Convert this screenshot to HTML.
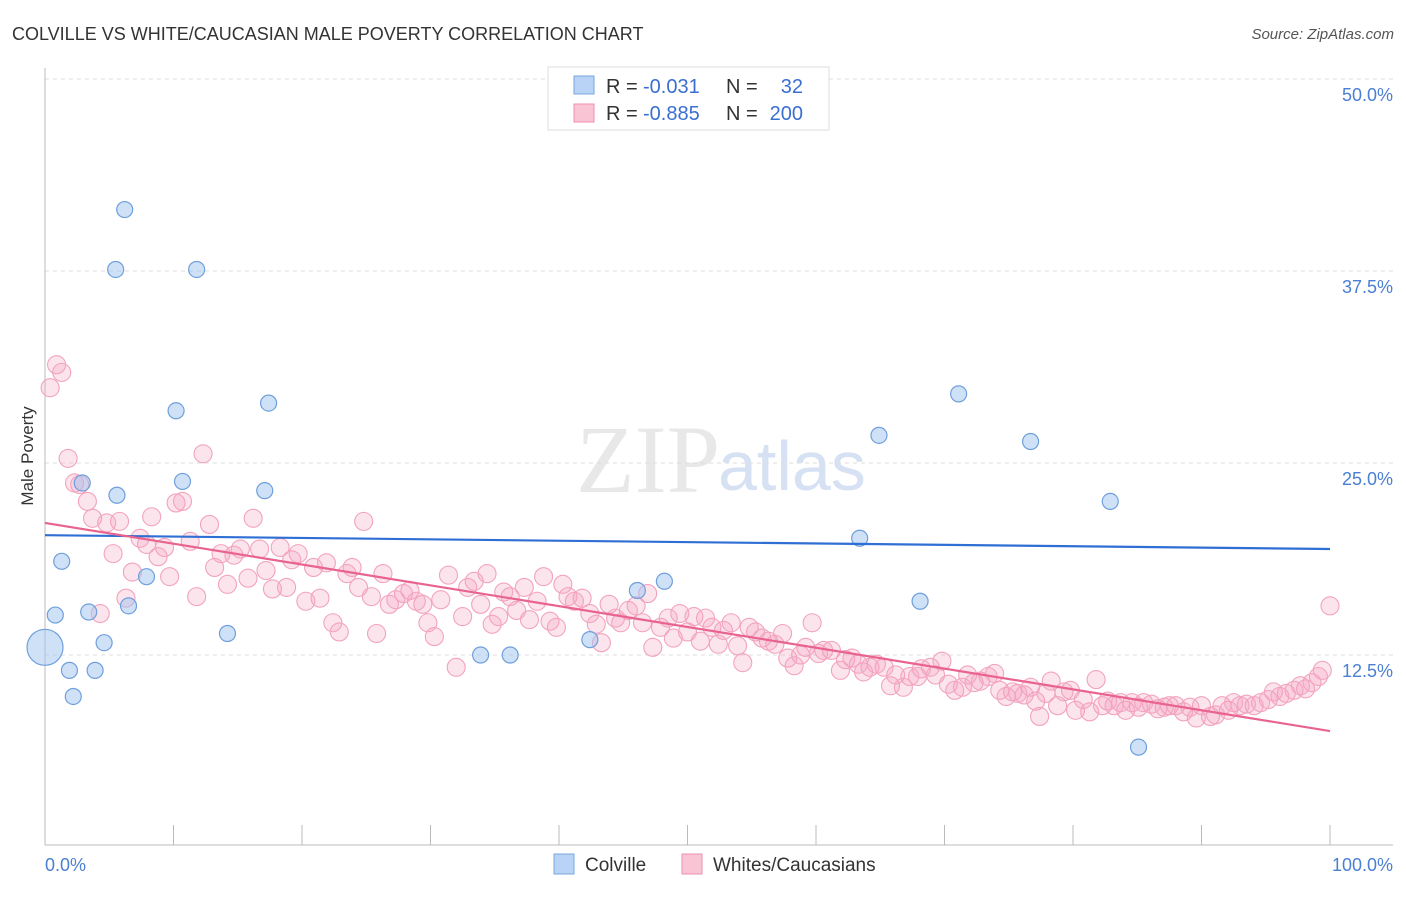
<!DOCTYPE html>
<html><head><meta charset="utf-8"><style>
body{margin:0;background:#fff;font-family:"Liberation Sans",sans-serif}
</style></head><body>
<svg width="1406" height="892" xmlns="http://www.w3.org/2000/svg" font-family="Liberation Sans, sans-serif">
<text x="12" y="40" font-size="18" fill="#333">COLVILLE VS WHITE/CAUCASIAN MALE POVERTY CORRELATION CHART</text>
<text x="1394" y="39" font-size="15" fill="#555" font-style="italic" text-anchor="end">Source: ZipAtlas.com</text>
<text x="33" y="456" font-size="17" fill="#333" text-anchor="middle" transform="rotate(-90 33 456)">Male Poverty</text>
<text x="720" y="492" font-size="96" fill="#e8e8e8" text-anchor="end" font-family="Liberation Serif, serif">ZIP</text>
<text x="718" y="490" font-size="70" fill="#d6e2f3">atlas</text>
<g id="grid"></g><g id="axes"></g><g id="pts"></g><g id="lines"></g>
<g>
<rect x="548" y="67" width="281" height="63" fill="#fff" stroke="#ddd"/>
<rect x="574" y="76" width="20" height="18" fill="#b8d3f5" stroke="#7aa7e0"/>
<rect x="574" y="104" width="20" height="18" fill="#f9c4d4" stroke="#ee90ad"/>
<text y="93" font-size="20" fill="#333"><tspan x="606">R =</tspan><tspan x="643" fill="#3a6fd0">-0.031</tspan><tspan x="726">N =</tspan><tspan x="803" fill="#3a6fd0" text-anchor="end">32</tspan></text>
<text y="120" font-size="20" fill="#333"><tspan x="606">R =</tspan><tspan x="643" fill="#3a6fd0">-0.885</tspan><tspan x="726">N =</tspan><tspan x="803" fill="#3a6fd0" text-anchor="end">200</tspan></text>
</g>
<g>
<rect x="554" y="854" width="20" height="20" fill="#b8d3f5" stroke="#7aa7e0"/>
<text x="585" y="871" font-size="19" fill="#333">Colville</text>
<rect x="682" y="854" width="20" height="20" fill="#f9c4d4" stroke="#ee90ad"/>
<text x="713" y="871" font-size="19" fill="#333">Whites/Caucasians</text>
</g>
</svg>
<script>
const yTicks=[12.5,25,37.5,50];
const yTickLabels=["12.5%","25.0%","37.5%","50.0%"];
const xTickLabels=["0.0%","100.0%"];
const blueX=[0,0.8,1.3,1.9,2.2,2.9,3.4,3.9,4.6,5.5,5.6,6.2,6.5,7.9,10.2,10.7,11.8,14.2,17.1,17.4,33.9,36.2,42.4,46.1,48.2,63.4,64.9,68.1,71.1,76.7,82.9,85.1];
const blueY=[13.0,15.1,18.6,11.5,9.8,23.7,15.3,11.5,13.3,37.6,22.9,41.5,15.7,17.6,28.4,23.8,37.6,13.9,23.2,28.9,12.5,12.5,13.5,16.7,17.3,20.1,26.8,16.0,29.5,26.4,22.5,6.5];
const pinkX=[0.4,0.9,1.3,1.8,2.3,2.7,3.3,3.7,4.3,4.8,5.3,5.8,6.3,6.8,7.4,7.9,8.3,8.8,9.3,9.7,10.2,10.7,11.3,11.8,12.3,12.8,13.2,13.7,14.2,14.7,15.2,15.8,16.2,16.7,17.2,17.7,18.3,18.8,19.2,19.7,20.3,20.9,21.4,21.9,22.4,22.9,23.5,23.9,24.4,24.8,25.4,25.8,26.3,26.8,27.3,27.9,28.4,28.9,29.4,29.8,30.3,30.8,31.4,32.0,32.5,32.9,33.4,33.9,34.4,34.8,35.3,35.7,36.2,36.7,37.3,37.7,38.3,38.8,39.3,39.8,40.3,40.7,41.2,41.8,42.4,42.9,43.3,43.9,44.4,44.8,45.4,46.0,46.5,46.9,47.3,47.9,48.5,48.9,49.4,50.0,50.5,51.0,51.4,51.9,52.4,52.8,53.4,53.9,54.3,54.8,55.3,55.8,56.3,56.8,57.4,57.8,58.3,58.8,59.2,59.7,60.2,60.6,61.2,61.9,62.3,62.8,63.3,63.7,64.2,64.7,65.3,65.8,66.2,66.8,67.3,67.9,68.2,68.9,69.3,69.8,70.3,70.8,71.4,71.8,72.3,72.8,73.4,73.9,74.3,74.8,75.3,75.7,76.2,76.7,77.1,77.4,77.9,78.3,78.8,79.3,79.8,80.2,80.8,81.3,81.8,82.3,82.7,83.2,83.7,84.1,84.6,85.1,85.5,86.1,86.6,87.1,87.5,88.0,88.6,89.1,89.6,90.0,90.7,91.1,91.6,92.1,92.5,93.0,93.5,94.1,94.6,95.2,95.6,96.1,96.6,97.2,97.7,98.1,98.6,99.1,99.4,100];
const pinkY=[29.9,31.4,30.9,25.3,23.7,23.6,22.5,21.4,15.2,21.1,19.1,21.2,16.2,17.9,20.1,19.7,21.5,18.9,19.5,17.6,22.4,22.5,19.9,16.3,25.6,21.0,18.2,19.1,17.1,19.0,19.4,17.5,21.4,19.4,18.0,16.8,19.5,16.9,18.7,19.1,16.0,18.2,16.2,18.5,14.6,14.0,17.8,18.2,16.9,21.2,16.3,13.9,17.8,15.8,16.1,16.5,16.7,16.0,15.8,14.6,13.7,16.1,17.7,11.7,15.0,16.9,17.3,15.8,17.8,14.5,15.0,16.6,16.3,15.4,16.9,14.8,16.0,17.6,14.7,14.3,17.1,16.3,16.0,16.2,15.2,14.5,13.3,15.8,14.9,14.6,15.4,15.7,14.6,16.5,13.0,14.3,14.9,13.6,15.2,14.0,15.0,13.4,14.9,14.3,13.2,14.1,14.6,13.1,12.0,14.3,14.0,13.6,13.4,13.2,13.9,12.3,11.8,12.5,13.0,14.6,12.6,12.8,12.8,11.5,12.2,12.3,11.9,11.4,11.7,11.9,11.7,10.5,11.2,10.4,11.1,11.1,11.6,11.7,11.2,12.1,10.6,10.2,10.4,11.2,10.7,10.8,11.1,11.3,10.2,9.8,10.1,10.0,9.9,10.4,9.5,8.5,10.0,10.8,9.2,10.1,10.2,8.9,9.6,8.8,10.9,9.2,9.5,9.2,9.4,8.9,9.4,9.1,9.4,9.3,9.0,9.1,9.2,9.2,8.8,9.1,8.4,9.2,8.5,8.6,9.2,8.9,9.4,9.2,9.3,9.2,9.4,9.6,10.1,9.8,10.0,10.2,10.5,10.3,10.7,11.1,11.5,15.7];
const blueTrend=[20.3,19.4];
const pinkTrend=[21.1,7.55];
const NS="http://www.w3.org/2000/svg";
const X0=45,X1=1330,Y0=847,PPU=15.36;
const xs=v=>X0+v/100*(X1-X0);
const ys=v=>Y0-v*PPU;
function mk(tag,attrs,parent){const e=document.createElementNS(NS,tag);for(const k in attrs)e.setAttribute(k,attrs[k]);document.getElementById(parent).appendChild(e);return e;}
yTicks.forEach((t,i)=>{
 const l=mk('line',{x1:45,x2:1393,y1:ys(t),y2:ys(t),stroke:'#ddd','stroke-dasharray':'4,4'},'grid');
 
 
 const tx=mk('text',{x:1393,y:ys(t)+22,'font-size':18,fill:'#4a7fd4','text-anchor':'end'},'grid');
 tx.textContent=yTickLabels[i];
 
 
});
const ax=mk('line',{x1:45,x2:1393,y1:845,y2:845,stroke:'#bbb'},'axes');


const ay=mk('line',{x1:45,x2:45,y1:68,y2:845,stroke:'#bbb'},'axes');


for(let i=0;i<=10;i++){
 const t=mk('line',{x1:xs(i*10),x2:xs(i*10),y1:825,y2:845,stroke:'#bbb'},'axes');
 
 
}
[[0,'start',45],[100,'end',1393]].forEach((d,i)=>{
 const tx=mk('text',{x:d[2],y:871,'font-size':18,fill:'#4a7fd4','text-anchor':d[1]},'axes');
 tx.textContent=xTickLabels[i];
 
 
});
pinkX.forEach((v,i)=>{
 const c=mk('circle',{cx:xs(v),cy:ys(pinkY[i]),r:9,fill:'rgba(245,165,195,0.3)',stroke:'#f2a3bd','stroke-width':1.1},'pts');
 
 
});
blueX.forEach((v,i)=>{
 const c=mk('circle',{cx:xs(v),cy:ys(blueY[i]),r:i===0?18:8,fill:'rgba(160,195,240,0.5)',stroke:'#6f9fdc','stroke-width':1.2},'pts');
 
 
});
const bl=mk('line',{x1:xs(0),x2:xs(100),y1:ys(blueTrend[0]),y2:ys(blueTrend[1]),stroke:'#2f6fd4','stroke-width':2.2},'lines');


const pl=mk('line',{x1:xs(0),x2:xs(100),y1:ys(pinkTrend[0]),y2:ys(pinkTrend[1]),stroke:'#e8648f','stroke-width':2.2},'lines');


</script>
</body></html>
